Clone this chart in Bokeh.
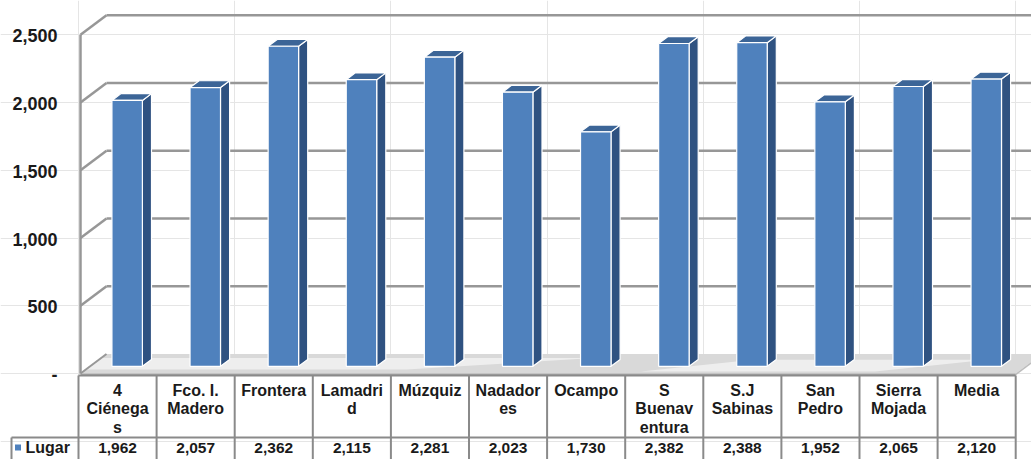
import numpy as np
from bokeh.plotting import figure
from bokeh.models import Range1d
from bokeh.core.properties import value
from bokeh.embed import file_html
from bokeh.resources import INLINE

# ---------------- data ----------------
categories = ["4\nCiénega\ns", "Fco. I.\nMadero", "Frontera", "Lamadri\nd", "Múzquiz",
              "Nadador\nes", "Ocampo", "S\nBuenav\nentura", "S.J\nSabinas", "San\nPedro",
              "Sierra\nMojada", "Media"]
lugar = [1962, 2057, 2362, 2115, 2281, 2023, 1730, 2382, 2388, 1952, 2065, 2120]
y_ticks = [0, 500, 1000, 1500, 2000, 2500]
series_name = "Lugar"

# ---------------- geometry (page pixels -> data units) ----------------
W, H = 1031, 459
PX0, COLW = 78.0, 78.1      # page x of category 0 left border, px per category
PY0, PXU = 373.0, 0.1355    # page y of value 0, px per value unit

def xd(px):   # page x -> data x
    return (px - PX0) / COLW

def vd(py):   # page y -> data value
    return (PY0 - py) / PXU

def dxp(px):  # pixel width -> data x
    return px / COLW

def dvp(px):  # pixel height -> data value
    return px / PXU

DX, DV = dxp(26), dvp(19.5)  # full depth of the 3D box
n = len(categories)
ymax = max(y_ticks)

p = figure(width=W, height=H, output_backend="svg", toolbar_location=None,
           x_range=Range1d(xd(0), xd(W)), y_range=Range1d(vd(H), vd(0)),
           x_axis_location=None, y_axis_location=None,
           min_border_left=0, min_border_right=0, min_border_top=0, min_border_bottom=0)
p.outline_line_color = None
p.background_fill_color = "white"
p.border_fill_color = "white"

GRID = "#979797"
FONT = value("Liberation Sans")

# ---------------- walls & gridlines ----------------
ticks = np.array(y_ticks, dtype=float)
gt = ticks[ticks > 0]
wx = dxp(2)
# back wall horizontal lines
p.segment(x0=[wx + DX] * len(gt), y0=list(gt + DV), x1=[xd(W)] * len(gt), y1=list(gt + DV),
          line_color=GRID, line_width=2.5)
# left wall diagonals
p.segment(x0=[wx] * len(gt), y0=list(gt), x1=[wx + DX] * len(gt), y1=list(gt + DV),
          line_color=GRID, line_width=2.5)
# left wall front edge
p.segment(x0=[wx], y0=[0], x1=[wx], y1=[ymax], line_color=GRID, line_width=2.5)

# ---------------- floor ----------------
fx = [wx, n, n + DX, wx + DX]
fy = [0, 0, DV, DV]
p.patch(fx, fy, fill_color="#d9d9d9", line_color=None)
# lighter streaks to suggest the metallic floor
p.patch([wx + DX * 0.2, n * 0.35, n * 0.55, wx + DX * 0.6],
        [DV * 0.2, DV * 0.2, DV * 0.8, DV * 0.8], fill_color="white", fill_alpha=0.55, line_color=None)
p.patch([n * 0.6, n * 0.85, n * 0.95 + DX * 0.7, n * 0.7 + DX * 0.7],
        [DV * 0.1, DV * 0.1, DV * 0.7, DV * 0.7], fill_color="white", fill_alpha=0.55, line_color=None)
# front face of the floor slab and right end
p.quad(left=[wx], right=[n], bottom=[-dvp(2)], top=[0], fill_color="#a9a9a9", line_color=None)
p.patch([n, n + DX, n + DX, n], [-dvp(2), DV - dvp(2), DV, 0], fill_color="#bdbdbd", line_color=None)
p.segment(x0=[wx], y0=[0], x1=[wx + DX], y1=[DV], line_color=GRID, line_width=2)

# ---------------- 3D bars ----------------
vals = np.array(lugar, dtype=float)
centers = np.arange(n) + 0.5
bw = 0.39
zf, zd = 0.37, 0.35
lf = centers - bw / 2 + zf * DX
rf = centers + bw / 2 + zf * DX
bot = np.full(n, zf * DV)
topv = vals + zf * DV
ox, oy = zd * DX, zd * DV

side_xs = [[r, r + ox, r + ox, r] for r in rf]
side_ys = [[b, b + oy, t + oy, t] for b, t in zip(bot, topv)]
top_xs = [[l, r, r + ox, l + ox] for l, r in zip(lf, rf)]
top_ys = [[t, t, t + oy, t + oy] for t in topv]

p.patches(side_xs, side_ys, fill_color="#2f5281", line_color="white", line_width=1.2)
p.patches(top_xs, top_ys, fill_color="#3c6597", line_color="white", line_width=1.2)
p.quad(left=lf, right=rf, bottom=bot, top=topv, fill_color="#4f81bd",
       line_color="white", line_width=1.2)

# ---------------- y tick labels ----------------
tick_labels = ["-" if t == 0 else f"{t:,}" for t in y_ticks]
p.text(x=[xd(57)] * len(y_ticks), y=y_ticks, text=tick_labels, text_align="right",
       text_baseline="middle", text_font=FONT, text_font_style="bold",
       text_font_size="18px", text_color="#1a1a1a", y_offset=1)

# ---------------- data table ----------------
TB = "#8a8a8a"
head_top, head_bot, data_bot = vd(375), vd(437), vd(470)
xl = xd(11)
# horizontal borders
p.segment(x0=[0, xl], y0=[head_top, head_bot], x1=[n, n], y1=[head_top, head_bot],
          line_color=TB, line_width=2)
# vertical borders
cols = list(np.arange(n + 1, dtype=float))
p.segment(x0=cols, y0=[head_top] * (n + 1), x1=cols, y1=[data_bot] * (n + 1),
          line_color=TB, line_width=2)
p.segment(x0=[xl], y0=[head_bot], x1=[xl], y1=[data_bot], line_color=TB, line_width=2)

# header texts
p.text(x=centers, y=[vd(381)] * n, text=categories, text_align="center", text_baseline="top",
       text_font=FONT, text_font_style="bold", text_font_size="16px", text_color="#1a1a1a",
       text_line_height=1.1)
# values row
p.text(x=centers, y=[vd(447)] * n, text=[f"{v:,}" for v in lugar], text_align="center",
       text_baseline="middle", text_font=FONT, text_font_style="bold", text_font_size="15.5px",
       text_color="#1a1a1a")
# series key + name
p.scatter(x=[xd(17.5)], y=[vd(447)], marker="square", size=6, fill_color="#4f81bd", line_color=None)
p.text(x=[xd(25)], y=[vd(447)], text=[series_name], text_align="left", text_baseline="middle",
       text_font=FONT, text_font_style="bold", text_font_size="16px", text_color="#1a1a1a")

open("out.html", "w").write(file_html(p, INLINE))
